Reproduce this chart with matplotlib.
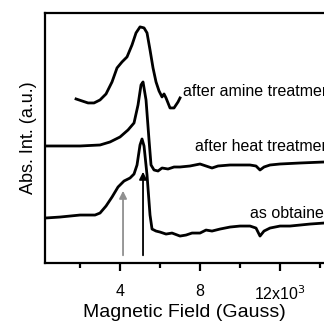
import matplotlib
matplotlib.use("Agg")
import matplotlib.pyplot as plt
from matplotlib.ticker import FixedLocator

plt.rcParams['font.family'] = ['Liberation Sans', 'DejaVu Sans']

# field in kGauss, signal in arbitrary units
field_obtained = [0.25, 1.0, 2.0, 2.75, 3.0, 3.3, 3.6, 3.9, 4.2, 4.5, 4.7, 4.85, 5.0, 5.1, 5.2,
                  5.35, 5.5, 5.6, 5.8, 6.0, 6.3, 6.6, 7.0, 7.3, 7.6, 8.0, 8.3, 8.6, 9.0, 9.5,
                  10.0, 10.5, 10.8, 11.0, 11.2, 11.5, 12.0, 12.5, 13.0, 13.5, 14.2]
abs_obtained = [45, 46, 48, 48, 50, 57, 66, 76, 82, 85, 89, 98, 118, 124, 117,
                88, 48, 34, 32, 31, 29, 30, 27, 28, 30, 30, 33, 32, 34, 36,
                37, 37, 35, 27, 32, 35, 37, 37, 38, 39, 40]

field_heat = [0.25, 1.0, 2.0, 3.0, 3.5, 4.0, 4.4, 4.7, 4.9, 5.05, 5.15, 5.3, 5.45, 5.55, 5.7,
              5.9, 6.1, 6.4, 6.7, 7.0, 7.5, 8.0, 8.3, 8.6, 8.9, 9.5, 10.0, 10.5, 10.8, 11.0,
              11.2, 11.5, 12.0, 13.0, 14.2]
abs_heat = [117, 117, 117, 118, 121, 126, 133, 140, 158, 178, 181, 163, 123, 98, 93,
            92, 95, 94, 96, 96, 97, 99, 97, 95, 97, 98, 98, 98, 97, 93,
            96, 98, 99, 100, 101]

field_amine = [1.8, 2.1, 2.4, 2.7, 3.0, 3.3, 3.6, 3.85, 4.1, 4.35, 4.6, 4.8, 5.0, 5.2, 5.35,
               5.5, 5.65, 5.8, 5.95, 6.1, 6.2, 6.3, 6.5, 6.7, 6.9, 7.0]
abs_amine = [164, 162, 160, 160, 163, 169, 181, 195, 201, 206, 218, 230, 236, 235, 230,
             213, 195, 181, 172, 166, 169, 165, 155, 155, 161, 165]

arrow_fields = [4.15, 5.15]
arrow_tops = [75, 94]
arrow_colors = ['#909090', 'black']

fig = plt.figure(figsize=(3.24, 3.22), dpi=100)
ax = fig.add_axes([0.139, 0.183, 0.861, 0.777])

for xs, ys in [(field_obtained, abs_obtained), (field_heat, abs_heat), (field_amine, abs_amine)]:
    ax.plot(xs, ys, color='black', lw=2, solid_joinstyle='round')

for xf, yt, c in zip(arrow_fields, arrow_tops, arrow_colors):
    ax.annotate('', xy=(xf, yt), xytext=(xf, 5),
                arrowprops=dict(arrowstyle='-|>', color=c, lw=1.3, mutation_scale=11))

# labels run off the right edge, as in the original figure
ax.text(7.15, 171, 'after amine treatment', fontsize=11.5, va='center', clip_on=False)
ax.text(7.75, 116, 'after heat treatment', fontsize=11.5, va='center', clip_on=False)
ax.text(10.5, 50, 'as obtained', fontsize=11.5, va='center', clip_on=False)

ax.set_xlim(0.25, 14.2)
ax.set_ylim(0, 250)
ax.xaxis.set_major_locator(FixedLocator([4, 8, 12]))
ax.xaxis.set_minor_locator(FixedLocator([2, 6, 10, 14]))
ax.set_xticklabels(['4', '8', '12x10$^3$'], fontsize=11.5)
ax.set_yticks([])
ax.tick_params(axis='x', which='major', direction='out', length=6, width=1.6, pad=9)
ax.tick_params(axis='x', which='minor', direction='out', length=3.5, width=1.6)
for s in ['left', 'bottom', 'top']:
    ax.spines[s].set_linewidth(1.6)
ax.spines['right'].set_visible(False)

ax.set_xlabel('Magnetic Field (Gauss)', fontsize=14, labelpad=1)
ax.set_ylabel('Abs. Int. (a.u.)', fontsize=13, labelpad=6)

fig.savefig('out.png', dpi=100)
